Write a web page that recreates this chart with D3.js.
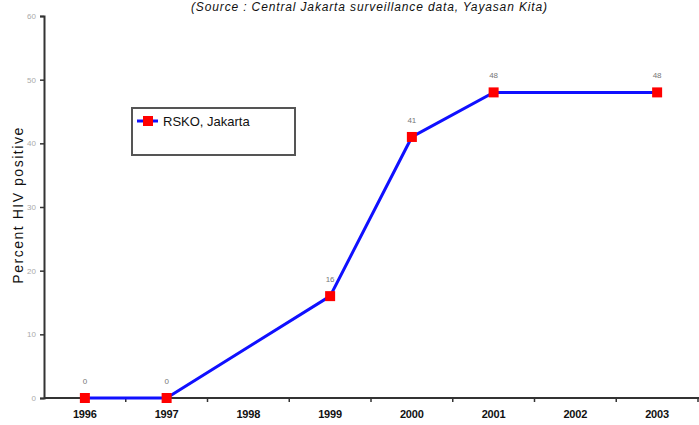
<!DOCTYPE html>
<html>
<head>
<meta charset="utf-8">
<script src="https://cdn.jsdelivr.net/npm/d3@7"></script>
<style>
  body { margin: 0; background: #fff; }
  svg { display: block; font-family: "Liberation Sans", Arial, sans-serif; }
</style>
</head>
<body>
<svg id="chart" width="699" height="425"></svg>
<script>
// data
const years = ["1996", "1997", "1998", "1999", "2000", "2001", "2002", "2003"];
const seriesYears = ["1996", "1997", "1999", "2000", "2001", "2003"];
const seriesValues = [0, 0, 16, 41, 48, 48];
const yTicks = [0, 10, 20, 30, 40, 50, 60];
const seriesName = "RSKO, Jakarta";

const svg = d3.select("#chart");
const margin = { left: 44, right: 1, top: 16, bottom: 27 };
const width = 699, height = 425;

const x = d3.scaleBand()
    .domain(years)
    .range([margin.left, width - margin.right]);

const y = d3.scaleLinear()
    .domain([0, 60])
    .range([height - margin.bottom, margin.top]);

// title
svg.append("text")
    .attr("x", 369)
    .attr("y", 11)
    .attr("text-anchor", "middle")
    .attr("font-size", 12)
    .attr("font-style", "italic")
    .attr("textLength", 356)
    .attr("fill", "#111")
    .text("(Source : Central Jakarta surveillance data, Yayasan Kita)");

// y axis
const yAxis = svg.append("g")
    .attr("transform", `translate(${margin.left},0)`)
    .call(d3.axisLeft(y).tickValues(yTicks).tickSize(4).tickPadding(4));
yAxis.select(".domain").attr("stroke", "#333").attr("stroke-width", 2);
yAxis.selectAll(".tick line").attr("stroke", "#333").attr("stroke-width", 1.5);
yAxis.selectAll(".tick text").attr("fill", "#aaa").attr("font-size", 8);

// x axis, ticks on band boundaries
const xAxis = svg.append("g")
    .attr("transform", `translate(0,${y(0)})`);
xAxis.append("line")
    .attr("x1", margin.left).attr("x2", width)
    .attr("stroke", "#333").attr("stroke-width", 2);
xAxis.selectAll(".xtick")
    .data(years)
    .join("line")
    .attr("x1", d => x(d) + x.bandwidth())
    .attr("x2", d => x(d) + x.bandwidth())
    .attr("y1", 0).attr("y2", 4)
    .attr("stroke", "#333").attr("stroke-width", 1.5);
xAxis.selectAll(".xlabel")
    .data(years)
    .join("text")
    .attr("x", d => x(d) + x.bandwidth() / 2)
    .attr("y", 20)
    .attr("text-anchor", "middle")
    .attr("font-size", 11)
    .attr("font-weight", "bold")
    .attr("textLength", 24)
    .attr("fill", "#111")
    .text(d => d);

// y title
svg.append("text")
    .attr("transform", `translate(23,${y(30.2)}) rotate(-90)`)
    .attr("text-anchor", "middle")
    .attr("font-size", 14)
    .attr("textLength", 156)
    .attr("fill", "#111")
    .text("Percent HIV positive");

const points = seriesYears.map((yr, i) => ({ year: yr, value: seriesValues[i] }));
const cx = d => x(d.year) + x.bandwidth() / 2;

const line = d3.line()
    .x(cx)
    .y(d => y(d.value));

svg.append("path")
    .datum(points)
    .attr("d", line)
    .attr("fill", "none")
    .attr("stroke", "#1010ff")
    .attr("stroke-width", 3);

svg.selectAll(".marker")
    .data(points)
    .join("rect")
    .attr("x", d => cx(d) - 5)
    .attr("y", d => y(d.value) - 5)
    .attr("width", 10)
    .attr("height", 10)
    .attr("fill", "#ff0000");

svg.selectAll(".vlabel")
    .data(points)
    .join("text")
    .attr("x", cx)
    .attr("y", d => y(d.value) - 14)
    .attr("text-anchor", "middle")
    .attr("font-size", 8)
    .attr("fill", "#777")
    .text(d => d.value);

// legend
const legend = svg.append("g").attr("transform", "translate(132,108)");
legend.append("rect")
    .attr("width", 163).attr("height", 47)
    .attr("fill", "#fff")
    .attr("stroke", "#555").attr("stroke-width", 2);
legend.append("line")
    .attr("x1", 5).attr("x2", 26).attr("y1", 13).attr("y2", 13)
    .attr("stroke", "#1010ff").attr("stroke-width", 3);
legend.append("rect")
    .attr("x", 11).attr("y", 8).attr("width", 10).attr("height", 10)
    .attr("fill", "#ff0000");
legend.append("text")
    .attr("x", 31).attr("y", 18)
    .attr("font-size", 13)
    .attr("fill", "#111")
    .text(seriesName);
</script>
</body>
</html>
